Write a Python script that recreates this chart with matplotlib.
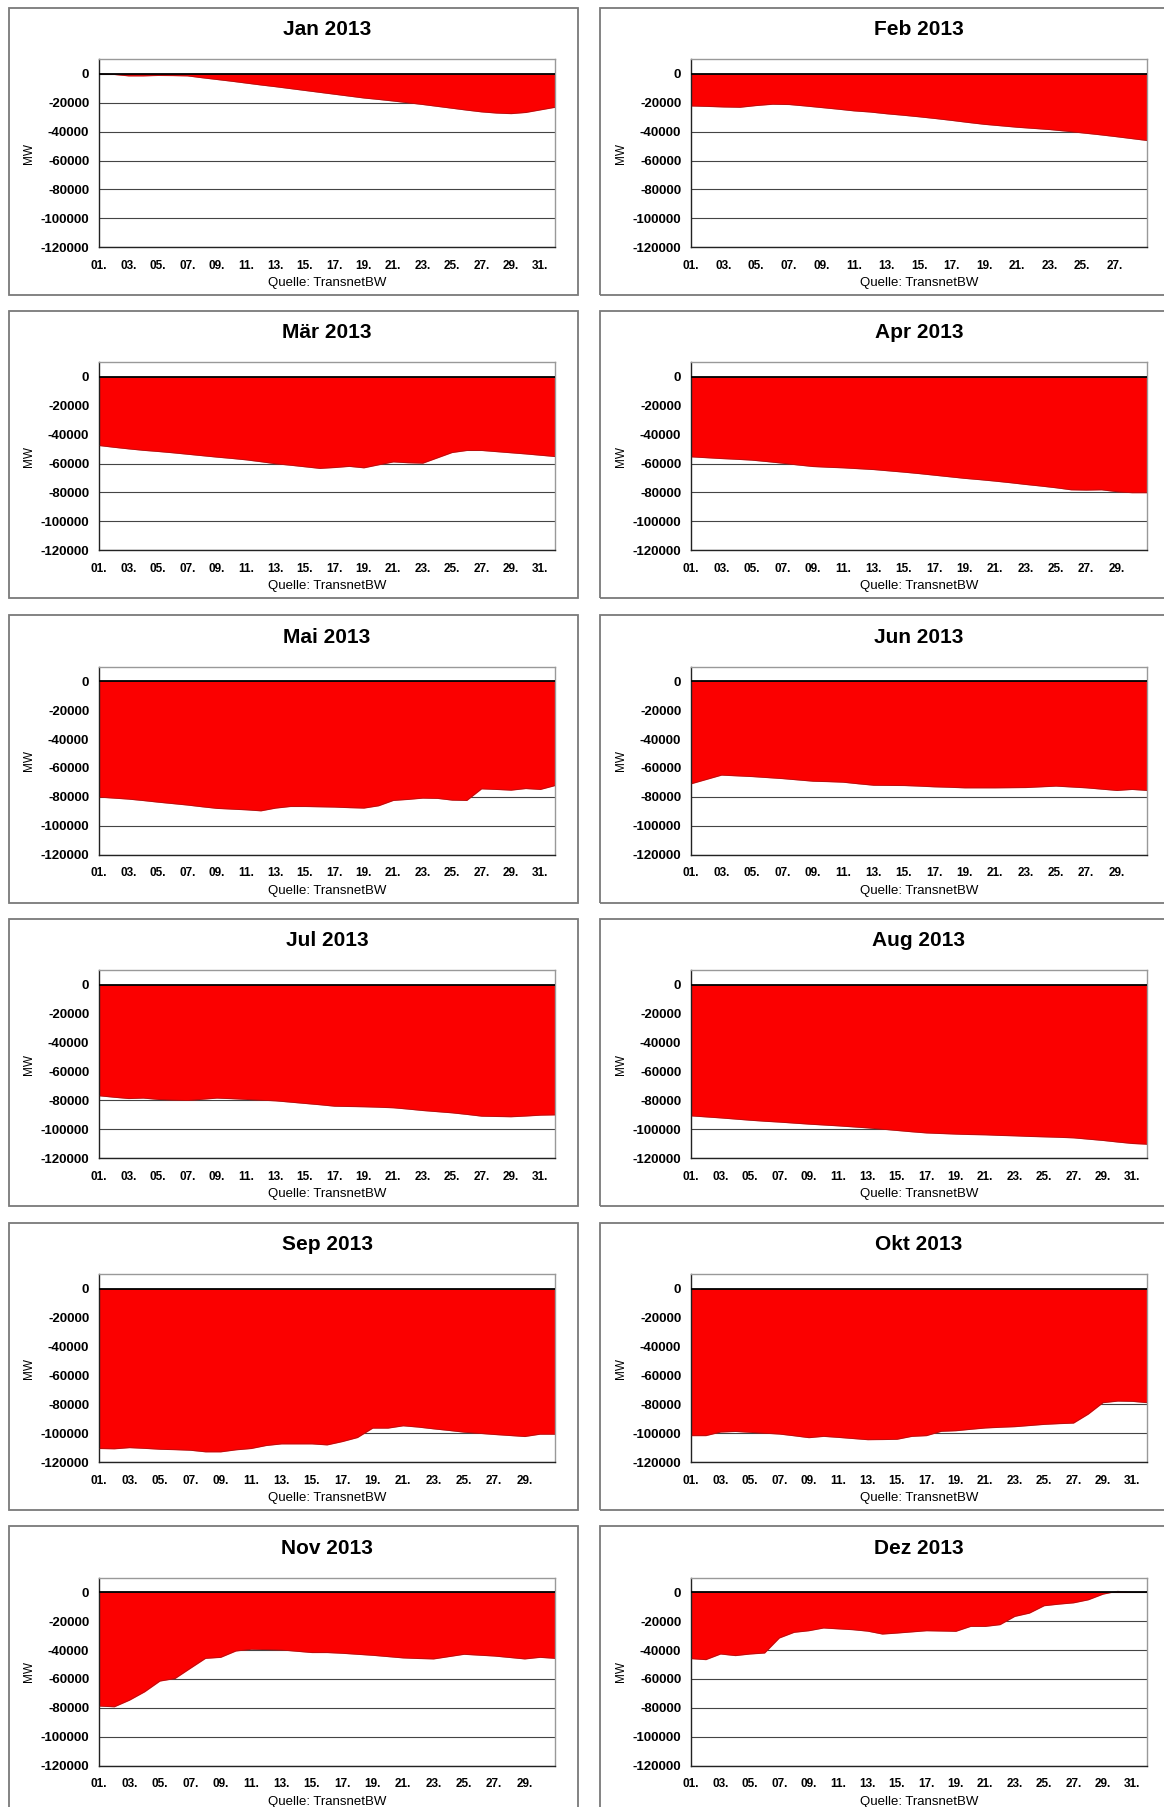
import numpy as np
import matplotlib
matplotlib.use("Agg")
import matplotlib.pyplot as plt
from matplotlib.patches import Rectangle

plt.rcParams['font.family'] = ['Liberation Sans', 'DejaVu Sans']
plt.rcParams['axes.unicode_minus'] = False

# monthly curves, one value per day (day 1 .. last day + 1), MW
titles = ["Jan 2013", "Feb 2013", "Mär 2013", "Apr 2013", "Mai 2013", "Jun 2013",
          "Jul 2013", "Aug 2013", "Sep 2013", "Okt 2013", "Nov 2013", "Dez 2013"]
days_in_month = [31, 28, 31, 30, 31, 30, 31, 31, 30, 31, 30, 31]

jan = [0, -500, -1500, -1500, -1200, -1300, -1500, -2800, -4000, -5200, -6500, -7800,
       -9000, -10300, -11600, -12900, -14200, -15500, -16800, -17800, -18900, -20100,
       -21300, -22600, -23900, -25200, -26400, -27200, -27600, -26800, -25000, -23200]
feb = [-22300, -22600, -23000, -23200, -22000, -21100, -21300, -22300, -23400, -24500,
       -25700, -26500, -27700, -28700, -29800, -31000, -32300, -33700, -35000, -36000,
       -37000, -37800, -38600, -39700, -40900, -42100, -43400, -44800, -46200]
mar = [-47600, -48800, -49900, -50900, -51700, -52600, -53600, -54600, -55600, -56500,
       -57500, -58800, -60200, -61200, -62300, -63400, -62800, -62000, -63000, -60900,
       -58900, -59500, -59800, -56100, -52400, -51000, -51000, -51800, -52600, -53400,
       -54300, -55200]
apr = [-55400, -56000, -56600, -57100, -57700, -58700, -59800, -61000, -62100, -62600,
       -63000, -63600, -64200, -65100, -66000, -67000, -68100, -69200, -70300, -71200,
       -72200, -73300, -74500, -75600, -76800, -78200, -78400, -78200, -79500, -80200,
       -80200]
mai = [-80200, -80900, -81600, -82600, -83700, -84700, -85700, -86900, -88000, -88500,
       -89000, -89700, -87800, -86700, -86700, -86900, -87100, -87500, -87800, -86200,
       -82500, -81800, -80900, -81100, -82300, -82500, -74500, -74900, -75400, -74300,
       -74900, -72200]
jun = [-71000, -68000, -65000, -65500, -66000, -66700, -67400, -68300, -69200, -69500,
       -69900, -71000, -72000, -72100, -72200, -72600, -73100, -73400, -73800, -73800,
       -73800, -73700, -73600, -73100, -72600, -73200, -73800, -74700, -75600, -74900,
       -75600]
jul = [-76800, -77800, -78700, -78400, -79300, -79700, -80000, -79200, -78400, -78800,
       -79300, -79800, -80300, -81200, -82100, -83000, -84000, -84200, -84400, -84700,
       -85100, -86000, -87000, -87800, -88600, -89700, -90900, -91100, -91300, -90800,
       -90200, -90000]
aug = [-90700, -91400, -92100, -92900, -93700, -94400, -95000, -95700, -96400, -97000,
       -97600, -98300, -99000, -99900, -100800, -101700, -102500, -102900, -103300,
       -103600, -103800, -104200, -104500, -104900, -105200, -105500, -105900, -106800,
       -107700, -108800, -109800, -110300]
sep = [-110500, -110700, -109900, -110400, -111000, -111300, -111700, -112800, -112800,
       -111400, -110500, -108400, -107300, -107300, -107300, -108000, -105700, -102900,
       -96400, -96400, -94800, -95700, -96900, -98000, -99200, -100000, -100800, -101500,
       -102200, -100600, -100600]
okt = [-101600, -101600, -99100, -98700, -99300, -99900, -100500, -101700, -103000,
       -102100, -102800, -103600, -104400, -104300, -104100, -102100, -101600, -98600,
       -98200, -97200, -96300, -95800, -95400, -94600, -93800, -93300, -92900, -86700,
       -78800, -77700, -77900, -78800]
nov = [-78800, -79300, -74700, -68900, -61500, -59700, -52700, -45800, -45100, -40700,
       -39500, -39700, -40000, -40900, -41800, -41800, -42300, -43000, -43700, -44600,
       -45500, -45900, -46200, -44600, -43000, -43600, -44200, -45200, -46200, -45100,
       -45800]
dez = [-46000, -46700, -42800, -43900, -42800, -42100, -31700, -27800, -26700, -24800,
       -25400, -26000, -27000, -29000, -28300, -27500, -26700, -26900, -27100, -23700,
       -23700, -22500, -16800, -14500, -9400, -8300, -7400, -5300, -1400, 700, 0, 0]

series = [jan, feb, mar, apr, mai, jun, jul, aug, sep, okt, nov, dez]

y_ticks = [0, -20000, -40000, -60000, -80000, -100000, -120000]
y_labels = ["0", "-20000", "-40000", "-60000", "-80000", "-100000", "-120000"]

W, H = 1164, 1807
fig = plt.figure(figsize=(W / 100, H / 100), dpi=100)

col_plot = [(99, 555), (691, 1147)]
col_box = [(9, 578), (600, 1180)]
row_top = [59.3, 362.3, 666.7, 970.3, 1274.3, 1577.7]
plot_h = 188

for i, (title, nd, vals) in enumerate(zip(titles, days_in_month, series)):
    r, c = divmod(i, 2)
    x0, x1 = col_plot[c]
    top = row_top[r]
    ax = fig.add_axes([x0 / W, 1 - (top + plot_h) / H, (x1 - x0) / W, plot_h / H])

    # panel frame
    bx0, bx1 = col_box[c]
    by0 = top - 51.5
    by1 = top + plot_h + 48
    fig.patches.append(Rectangle((bx0 / W, 1 - by1 / H), (bx1 - bx0) / W, (by1 - by0) / H,
                                 transform=fig.transFigure, fill=False,
                                 edgecolor="#7a7a7a", linewidth=1.3, zorder=0))

    x = np.arange(1, nd + 2)
    ax.fill_between(x, 0, vals, color="#fb0000", linewidth=0, zorder=2)
    ax.plot(x, vals, color="#6a2020", linewidth=0.5, alpha=0.6, zorder=3)
    ax.axhline(0, color="black", linewidth=1.3, zorder=4)

    ax.set_xlim(1, nd + 1)
    ax.set_ylim(-120000, 10000)
    ax.set_yticks(y_ticks)
    ax.set_yticklabels(y_labels, fontsize=9.5, fontweight="bold")
    xt = list(range(1, nd + 1, 2))
    ax.set_xticks(xt)
    ax.set_xticklabels(["%02d." % d for d in xt], fontsize=8.5, fontweight="bold")
    ax.tick_params(length=0)
    ax.tick_params(axis="y", pad=7)
    ax.tick_params(axis="x", pad=9)
    ax.grid(axis="y", color="#444444", linewidth=0.8, zorder=1)
    ax.set_axisbelow(True)

    ax.spines["left"].set_color("#222222")
    ax.spines["bottom"].set_color("#222222")
    ax.spines["top"].set_color("#999999")
    ax.spines["right"].set_color("#999999")
    for s in ax.spines.values():
        s.set_linewidth(1.0)

    ax.set_ylabel("MW", fontsize=8.5)
    ax.yaxis.set_label_coords(-0.14, 0.5)
    ax.text(0.5, 1 + 29.5 / plot_h, title, transform=ax.transAxes, ha="center",
            va="center", fontsize=15, fontweight="bold")
    ax.text(0.5, -36 / plot_h, "Quelle: TransnetBW", transform=ax.transAxes,
            ha="center", va="center", fontsize=9.5)

fig.savefig("out.png", dpi=100)
